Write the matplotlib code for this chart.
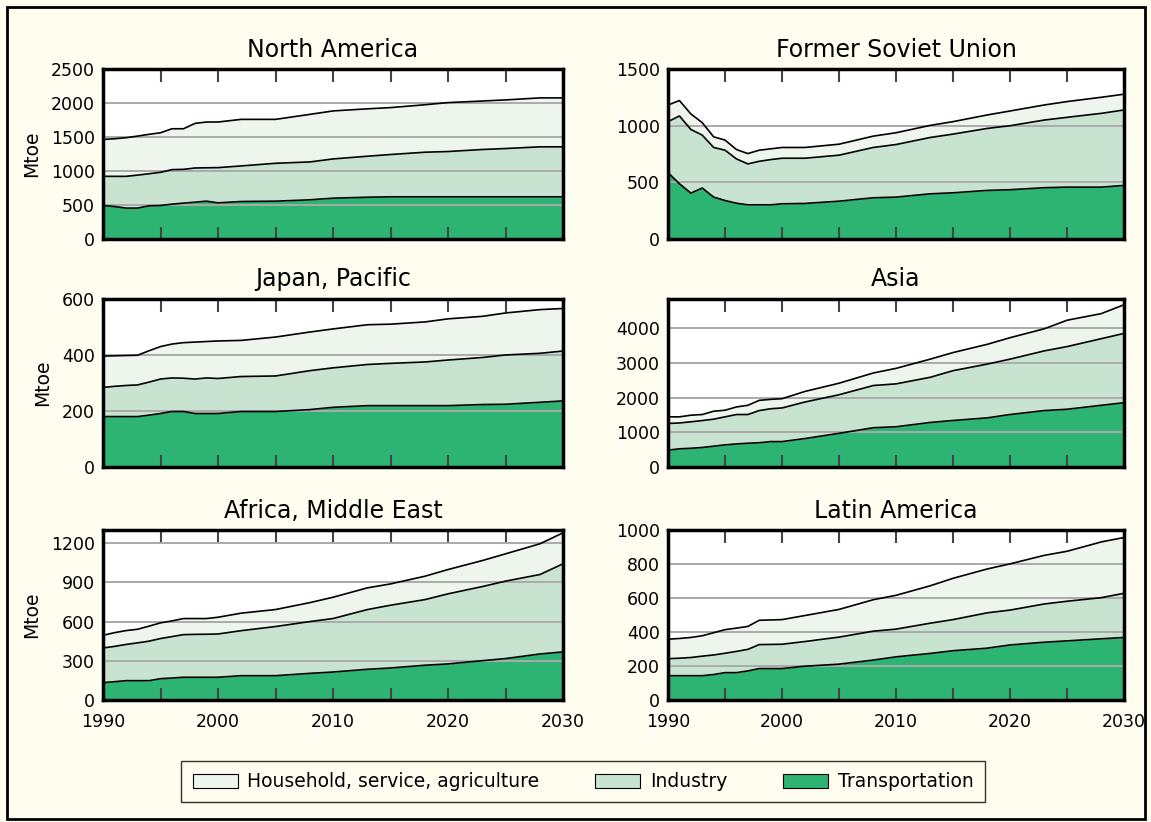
import matplotlib
matplotlib.use("Agg")
import matplotlib.pyplot as plt
from matplotlib.patches import Rectangle, Patch
import numpy as np

# 年 (共通)
years = [1990, 1991, 1992, 1993, 1994, 1995, 1996, 1997, 1998, 1999, 2000,
         2002, 2005, 2008, 2010, 2013, 2015, 2018, 2020, 2023, 2025, 2028, 2030]

# North America
na_trans = [493, 478, 455, 455, 488, 493, 513, 528, 542, 557, 532, 552, 557, 577, 601, 615, 621, 621, 621, 621, 621, 621, 621]
na_ind = [429, 444, 467, 485, 472, 488, 508, 497, 503, 491, 518, 523, 557, 557, 577, 603, 622, 656, 666, 696, 710, 735, 735]
na_house = [542, 553, 568, 574, 580, 582, 601, 597, 656, 673, 671, 685, 646, 700, 706, 697, 690, 698, 720, 713, 715, 720, 720]

# Former Soviet Union
fsu_trans = [586, 488, 405, 450, 370, 340, 316, 302, 302, 302, 311, 314, 334, 364, 370, 399, 408, 429, 435, 453, 458, 458, 473]
fsu_ind = [450, 598, 562, 467, 438, 444, 391, 361, 384, 399, 402, 399, 406, 444, 464, 497, 518, 547, 565, 597, 616, 651, 666]
fsu_house = [147, 136, 137, 110, 94, 89, 83, 91, 98, 95, 95, 95, 97, 100, 104, 107, 110, 119, 130, 133, 139, 142, 139]

# Japan, Pacific
jp_trans = [180, 180, 180, 180, 185, 191, 198, 198, 191, 191, 191, 198, 198, 205, 213, 219, 219, 219, 219, 223, 224, 231, 236]
jp_ind = [104, 108, 111, 113, 118, 123, 120, 119, 123, 127, 125, 125, 127, 139, 141, 147, 151, 156, 163, 168, 176, 175, 178]
jp_house = [112, 109, 107, 106, 112, 116, 121, 127, 132, 130, 134, 129, 139, 138, 139, 142, 140, 143, 147, 147, 150, 156, 152]

# Asia
as_trans = [486, 524, 540, 562, 600, 638, 665, 685, 700, 733, 733, 820, 971, 1133, 1161, 1285, 1342, 1418, 1514, 1628, 1666, 1780, 1856]
as_ind = [771, 746, 764, 778, 780, 809, 849, 829, 928, 947, 971, 1055, 1114, 1218, 1238, 1304, 1438, 1552, 1599, 1723, 1809, 1923, 2000]
as_house = [190, 177, 191, 174, 229, 191, 219, 266, 295, 272, 267, 305, 333, 362, 448, 524, 523, 571, 619, 638, 761, 724, 828]

# Africa, Middle East
af_trans = [133, 140, 148, 148, 148, 163, 168, 174, 174, 174, 174, 186, 186, 204, 214, 235, 245, 266, 276, 301, 317, 352, 368]
af_ind = [265, 270, 277, 289, 302, 307, 317, 326, 328, 329, 331, 344, 376, 396, 409, 457, 480, 502, 536, 567, 592, 608, 674]
af_house = [97, 105, 106, 104, 115, 120, 120, 123, 121, 120, 128, 134, 130, 145, 163, 166, 163, 179, 186, 199, 209, 235, 237]

# Latin America
la_trans = [143, 143, 143, 143, 150, 161, 161, 171, 185, 185, 185, 199, 211, 235, 254, 274, 290, 305, 324, 340, 348, 360, 368]
la_ind = [100, 103, 107, 115, 115, 114, 125, 127, 141, 142, 143, 145, 159, 170, 163, 178, 183, 208, 205, 225, 233, 242, 260]
la_house = [115, 116, 118, 120, 131, 139, 137, 135, 143, 144, 145, 153, 163, 185, 199, 220, 243, 258, 272, 286, 294, 328, 328]

titles = ['North America', 'Former Soviet Union', 'Japan, Pacific', 'Asia',
          'Africa, Middle East', 'Latin America']
panel_data = [(na_trans, na_ind, na_house), (fsu_trans, fsu_ind, fsu_house),
              (jp_trans, jp_ind, jp_house), (as_trans, as_ind, as_house),
              (af_trans, af_ind, af_house), (la_trans, la_ind, la_house)]
ymax = [2500, 1500, 600, 4850, 1300, 1000]
ysteps = [500, 500, 200, 1000, 300, 200]

sectors = ['Household, service, agriculture', 'Industry', 'Transportation']
colors = {'Transportation': '#2db472', 'Industry': '#c8e3d0',
          'Household, service, agriculture': '#eef5ec'}

bg = '#fffdf0'
fig = plt.figure(figsize=(11.51, 8.22), dpi=100, facecolor=bg)

# 軸の位置 (figure座標)
lefts = [0.0895, 0.5804]
widths = [0.3997, 0.3962]
bottoms = [0.7092, 0.4319, 0.1484]
heights = [0.2068, 0.2044, 0.2068]

for i, (trans, ind, house) in enumerate(panel_data):
    r, c = divmod(i, 2)
    ax = fig.add_axes([lefts[c], bottoms[r], widths[c], heights[r]])
    ax.set_facecolor('white')

    x = np.array(years)
    l1 = np.array(trans)
    l2 = l1 + np.array(ind)
    l3 = l2 + np.array(house)
    ax.fill_between(x, 0, l1, color=colors['Transportation'], lw=0, zorder=1)
    ax.fill_between(x, l1, l2, color=colors['Industry'], lw=0, zorder=1)
    ax.fill_between(x, l2, l3, color=colors['Household, service, agriculture'], lw=0, zorder=1)
    for line in (l1, l2, l3):
        ax.plot(x, line, color='black', lw=1.2, zorder=3)

    ax.set_xlim(1990, 2030)
    ax.set_ylim(0, ymax[i])
    yt = np.arange(0, ymax[i] + 1, ysteps[i])
    ax.set_yticks(yt)
    ax.set_yticklabels([str(v) for v in yt], fontsize=12.5)
    ax.yaxis.grid(True, color='#aaaaaa', lw=1.4, zorder=2)
    ax.set_axisbelow(False)
    ax.tick_params(axis='y', length=0, pad=6)

    xt = list(range(1990, 2031, 5))
    ax.set_xticks(xt)
    if r == 2:
        ax.set_xticklabels([str(v) if v % 10 == 0 else '' for v in xt], fontsize=12.5)
    else:
        ax.set_xticklabels([])
    ax.tick_params(axis='x', direction='in', length=9, width=1.5, color='#444444',
                   top=True, bottom=True, pad=9)

    for s in ax.spines.values():
        s.set_linewidth(2.5)
        s.set_color('black')
        s.set_zorder(4)

    ax.set_title(titles[i], fontsize=17, pad=9)
    if c == 0:
        ax.set_ylabel('Mtoe', fontsize=13.5, labelpad=7)

# 凡例
handles = [Patch(facecolor=colors[s], edgecolor='black', lw=0.8, label=s) for s in sectors]
leg = fig.legend(handles=handles, loc='center', bbox_to_anchor=(0.5065, 0.049), ncol=3,
                 fontsize=13.5, frameon=True, fancybox=False, edgecolor='black',
                 handlelength=2.4, handleheight=0.8, columnspacing=3.0, borderpad=0.6,
                 handletextpad=0.5)
leg.get_frame().set_linewidth(1.0)
leg.get_frame().set_facecolor(bg)

# 外枠
fig.add_artist(Rectangle((0.006, 0.004), 0.989, 0.987, transform=fig.transFigure,
                         fill=False, edgecolor='black', lw=2))

plt.savefig('out.png', dpi=100, facecolor=bg)
